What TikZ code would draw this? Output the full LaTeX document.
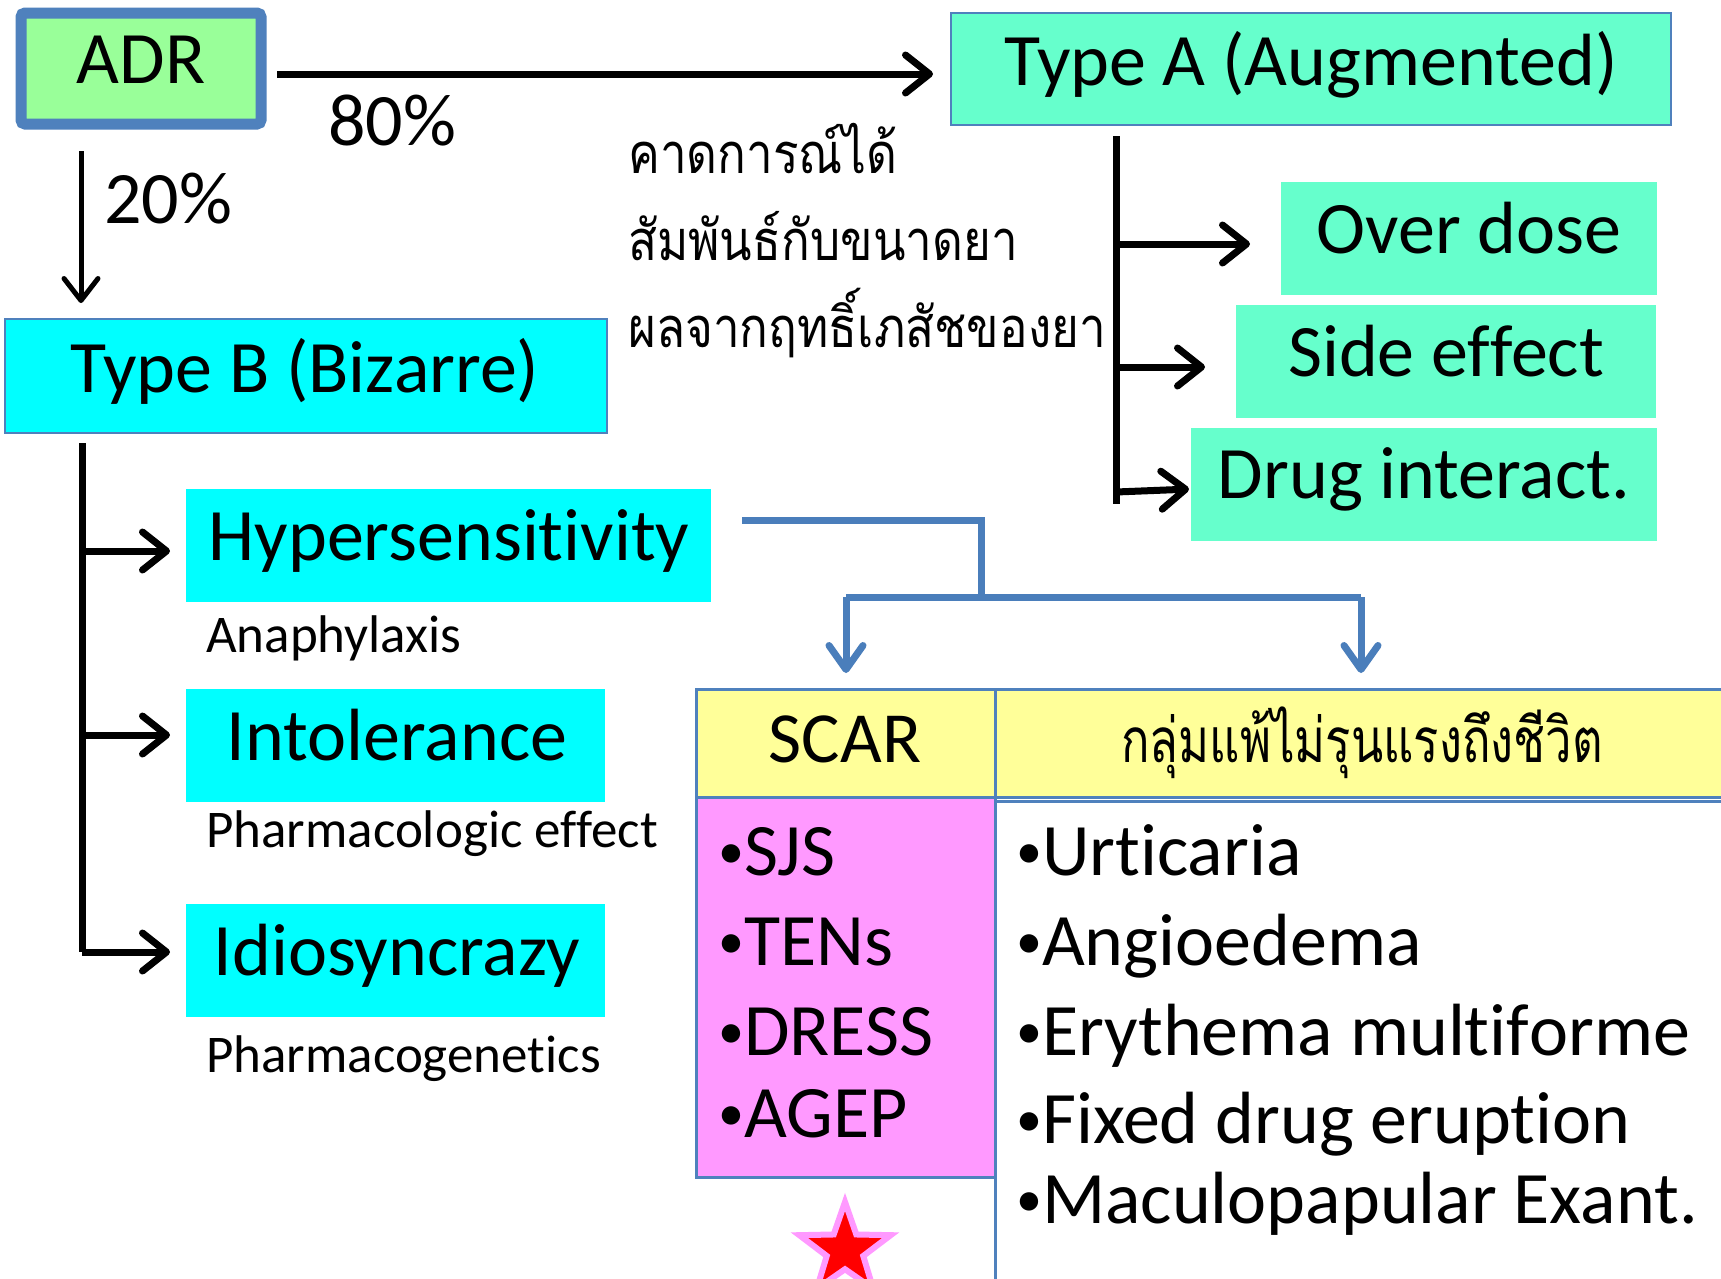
\documentclass[tikz,border=0pt]{standalone}
\usepackage{fontspec}
\setmainfont{Carlito}[RawFeature={-liga;-dlig;-clig;-calt;-rlig;-hlig}]
\newfontfamily\thaifont[Script=Thai,FakeStretch=0.85]{Loma}
\newfontfamily\thaicond[Script=Thai,FakeStretch=0.76]{Loma}
\usetikzlibrary{arrows.meta,shapes.geometric}
\definecolor{bdr}{HTML}{4F81BD}
\definecolor{adrgreen}{HTML}{99FF99}
\definecolor{aqua}{HTML}{66FFCC}
\definecolor{cyanb}{HTML}{00FFFF}
\definecolor{yel}{HTML}{FFFF99}
\definecolor{pinkf}{HTML}{FF99FF}
\definecolor{conn}{HTML}{4A7EBB}
\newcommand\bul{\raisebox{7bp}{\fontsize{52bp}{56bp}\selectfont •}}
\newcommand\nti{t\kern0pt i}
\tikzset{
  box/.style={inner sep=0pt, outer sep=0pt, anchor=north west},
  thinbdr/.style={draw=bdr, line width=2.5bp},
  big/.style={font=\fontsize{74bp}{80bp}\selectfont, inner sep=0pt, anchor=base},
  bigw/.style={font=\fontsize{74bp}{80bp}\selectfont, inner sep=0pt, anchor=base west},
  small/.style={font=\fontsize{53bp}{58bp}\selectfont, inner sep=0pt, anchor=base west},
  thaitxt/.style={font=\fontsize{56bp}{62bp}\thaifont, inner sep=0pt, anchor=base west},
  blk/.style={draw=black, line width=7bp},
  blkarr/.style={blk, -{Straight Barb[length=24bp,width=38bp,round]}},
  thinarr/.style={draw=black, line width=5bp, -{Straight Barb[length=22bp,width=34bp,round]}},
  bluearr/.style={draw=conn, line width=7bp, -{Straight Barb[length=24bp,width=34bp,round]}},
  tbl/.style={draw=bdr, line width=3bp},
}
\begin{document}
\begin{tikzpicture}[x=1bp, y=-1bp]
\useasboundingbox (0,0) rectangle (1721,1278);
\fill[white] (0,0) rectangle (1721,1278);

% ADR
\node[box, fill=adrgreen, draw=bdr, line width=11bp, rounded corners=4bp,
      minimum width=240bp, minimum height=111bp] (adr) at (21,13) {};
\node[big] (adrt) at (141,83) {ADR};

% Type A
\node[box, fill=aqua, thinbdr, minimum width=720bp, minimum height=112bp] (typeA) at (951,13) {};
\node[big] (typeAt) at (1311,85) {Type A (Augmented)};

\draw[blkarr, shorten >=18bp] (277,74) -- (typeA.west |- 0,74);
\node[bigw] (p80) at (328,145) {80\%};

% Type B
\node[box, fill=cyanb, thinbdr, minimum width=602bp, minimum height=114bp] (typeB) at (5,319) {};
\node[big] (typeBt) at (305,392) {Type B (Bizarre)};

\draw[thinarr, shorten >=16bp] (81,151) -- (typeB.north -| 81,0);
\node[bigw] (p20) at (104,223) {20\%};

% Thai notes
\node[thaitxt] (th1) at (628,173) {คาดการณ์ได้};
\node[thaitxt] (th2) at (628,260) {สัมพันธ์กับขนาดยา};
\node[thaitxt] (th3) at (628,347) {ผลจากฤทธิ์เภสัชของยา};

% Type A children
\node[box, fill=aqua, minimum width=376bp, minimum height=113bp] (od) at (1281,182) {};
\node[big] (odt) at (1469,253) {Over dose};
\node[box, fill=aqua, minimum width=420bp, minimum height=113bp] (se) at (1236,305) {};
\node[big] (set) at (1446,376) {Side ef\kern0pt fect};
\node[box, fill=aqua, minimum width=466bp, minimum height=113bp] (di) at (1191,428) {};
\node[big] (dit) at (1424,498) {Drug interact.};

\draw[blk] (1116,136) -- (1116,504);
\draw[blkarr, shorten >=31bp] (1116,244) -- (od.west |- 0,244);
\draw[blkarr, shorten >=31bp] (1116,367) -- (se.west |- 0,367);
\draw[blkarr, shorten >=2bp] (1116,492) -- (di.west |- 0,489);

% Type B children
\node[box, fill=cyanb, minimum width=525bp, minimum height=113bp] (hyp) at (186,489) {};
\node[big] (hypt) at (449,560) {Hypersensi\nti vity};
\node[small] (ana) at (206,652) {Anaphylaxis};
\node[box, fill=cyanb, minimum width=419bp, minimum height=113bp] (intol) at (186,689) {};
\node[big] (intolt) at (397,760) {Intolerance};
\node[small] (pe) at (206,847) {Pharmacologic ef\kern0pt fect};
\node[box, fill=cyanb, minimum width=419bp, minimum height=113bp] (idio) at (186,904) {};
\node[big] (idiot) at (397,975) {Idiosyncrazy};
\node[small] (pg) at (206,1072) {Pharmacogene\nti cs};

\draw[blk] (82,443) -- (82,952);
\draw[blkarr, shorten >=16bp] (82,551) -- (hyp.west |- 0,551);
\draw[blkarr, shorten >=16bp] (82,735) -- (intol.west |- 0,735);
\draw[blkarr, shorten >=16bp] (82,952) -- (idio.west |- 0,952);

% Table
\node[box, fill=yel, tbl, minimum width=299bp, minimum height=108bp] (scarh) at (696,689) {};
\node[box, fill=yel, tbl, minimum width=735bp, minimum height=108bp] (thaih) at (995,689) {};
\node[box, fill=pinkf, tbl, minimum width=299bp, minimum height=380bp] (scarb) at (696,797) {};
\draw[tbl] (1730,801) -- (995,801) -- (995,1290);

\node[font=\fontsize{72bp}{78bp}\selectfont, inner sep=0pt, anchor=base] (scart) at (845,762) {SCAR};
\node[font=\fontsize{62bp}{68bp}\thaicond, inner sep=0pt, anchor=base] (thait) at (1362,762) {กลุ่มแพ้ไม่รุนแรงถึงชีวิต};

\node[bigw] (b1) at (718,875) {\bul SJS};
\node[bigw] (b2) at (718,965) {\bul TENs};
\node[bigw] (b3) at (718,1055) {\bul DRESS};
\node[bigw] (b4) at (718,1137) {\bul AGEP};

\node[bigw] (r1) at (1016,875) {\bul Ur\nti caria};
\node[bigw] (r2) at (1016,965) {\bul Angioedema};
\node[bigw] (r3) at (1016,1055) {\bul Erythema mul\nti f\kern0pt orme};
\node[bigw] (r4) at (1016,1143) {\bul Fixed drug erup\nti on};
\node[bigw] (r5) at (1016,1223) {\bul Maculopapular Exant.};

% Blue connector
\coordinate (hypR) at (742,520);
\coordinate (mid) at (981,597);
\coordinate (jl) at (846,597);
\coordinate (jr) at (1361,597);
\draw[draw=conn, line width=7bp] (hypR) -| (mid);
\draw[draw=conn, line width=7bp] (jl) -- (jr);
\draw[bluearr, shorten >=16bp] (jl) -- (jl |- scarh.north);
\draw[bluearr, shorten >=16bp] (jr) -- (jr |- thaih.north);

% Star
\node[star, star points=5, star point ratio=2.5, fill=red, draw=pinkf, line width=6bp,
      minimum size=96bp, inner sep=0pt] (star) at (845,1250) {};
\end{tikzpicture}
\end{document}
